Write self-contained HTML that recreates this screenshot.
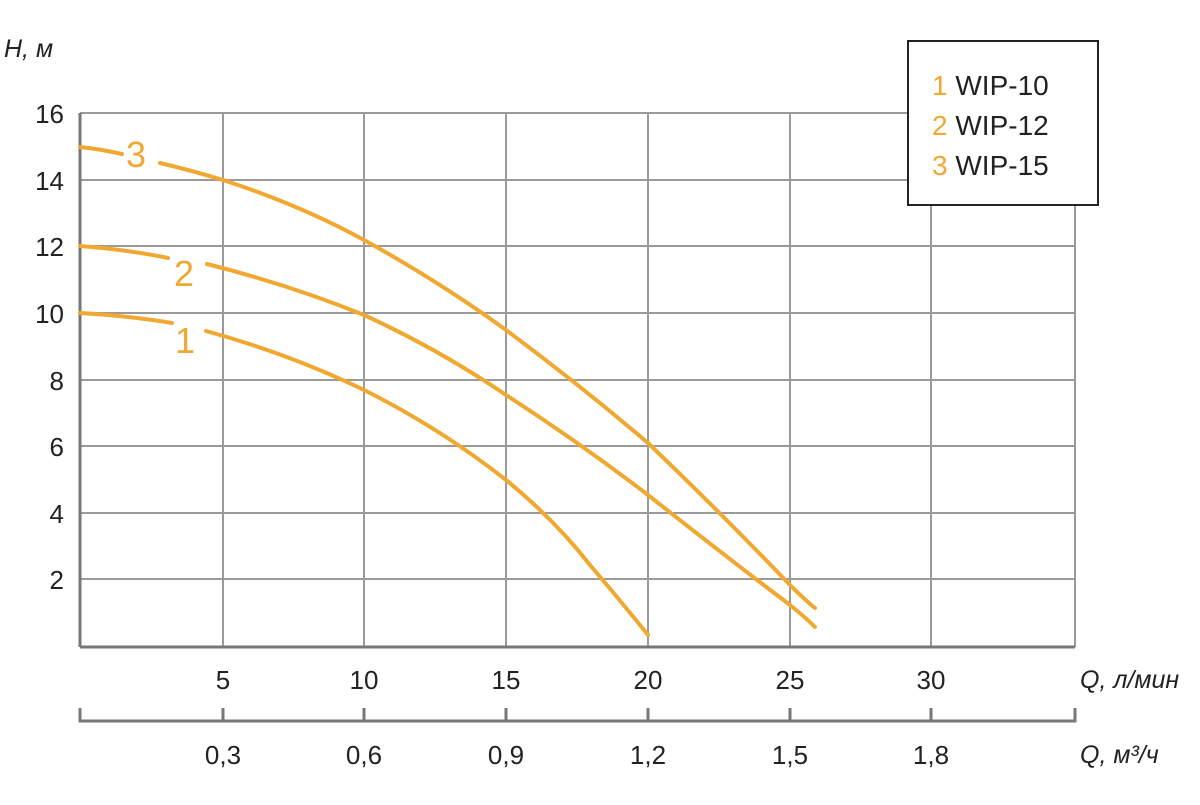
<!DOCTYPE html>
<html><head><meta charset="utf-8"><style>
body{margin:0;background:#fff;width:1200px;height:800px;overflow:hidden}
text{font-family:"Liberation Sans","DejaVu Sans",sans-serif;fill:#222}
</style></head><body>
<svg width="1200" height="800" viewBox="0 0 1200 800">
<g stroke="#9a9a9a" stroke-width="2" fill="none">
<line x1="80" y1="113" x2="1075" y2="113"/>
<line x1="80" y1="180" x2="1075" y2="180"/>
<line x1="80" y1="246" x2="1075" y2="246"/>
<line x1="80" y1="313" x2="1075" y2="313"/>
<line x1="80" y1="380" x2="1075" y2="380"/>
<line x1="80" y1="446" x2="1075" y2="446"/>
<line x1="80" y1="513" x2="1075" y2="513"/>
<line x1="80" y1="579" x2="1075" y2="579"/>
<line x1="223" y1="113" x2="223" y2="647"/>
<line x1="364" y1="113" x2="364" y2="647"/>
<line x1="506" y1="113" x2="506" y2="647"/>
<line x1="648" y1="113" x2="648" y2="647"/>
<line x1="790" y1="113" x2="790" y2="647"/>
<line x1="931" y1="113" x2="931" y2="647"/>
<line x1="1075" y1="113" x2="1075" y2="647"/>
</g>
<g stroke="#777" stroke-width="3" fill="none">
<line x1="80" y1="113" x2="80" y2="647"/>
<line x1="80" y1="647" x2="1075" y2="647"/>
<path d="M80 708V721H1075V708M223 708V721M364 708V721M506 708V721M648 708V721M790 708V721M931 708V721"/>
</g>
<g stroke="#f0a830" stroke-width="4" fill="none" stroke-linecap="round">
<path d="M80 147 Q100 149 122 154"/>
<path d="M160 163 Q190 170 223 180 Q300 205 364 240 Q440 282 506 330 Q580 385 648 443 Q720 512 790 585 Q805 600 815 608"/>
<path d="M80 246 Q130 250 168 258"/>
<path d="M207 264 Q290 285 364 315 Q440 350 506 395 Q580 443 648 495 Q720 552 790 605 Q805 617 815 627"/>
<path d="M80 313 Q130 316 172 323"/>
<path d="M206 331 Q290 354 364 390 Q440 428 506 480 Q555 520 590 565 Q620 600 648 635"/>
</g>
<g style="font-size:36px">
<text x="126" y="167" style="fill:#f0a830">3</text>
<text x="174" y="286" style="fill:#f0a830">2</text>
<text x="175" y="353" style="fill:#f0a830">1</text>
</g>
<g style="font-size:26px" text-anchor="end">
<text x="64" y="123">16</text><text x="64" y="190">14</text><text x="64" y="256">12</text>
<text x="64" y="323">10</text><text x="64" y="390">8</text><text x="64" y="456">6</text>
<text x="64" y="523">4</text><text x="64" y="589">2</text>
</g>
<text x="4" y="57" style="font-size:25px;font-style:italic">H, м</text>
<g style="font-size:26px" text-anchor="middle">
<text x="223" y="689">5</text><text x="364" y="689">10</text><text x="506" y="689">15</text>
<text x="648" y="689">20</text><text x="790" y="689">25</text><text x="931" y="689">30</text>
<text x="223" y="764">0,3</text><text x="364" y="764">0,6</text><text x="506" y="764">0,9</text>
<text x="648" y="764">1,2</text><text x="790" y="764">1,5</text><text x="931" y="764">1,8</text>
</g>
<text x="1080" y="688" style="font-size:25px;font-style:italic">Q, л/мин</text>
<text x="1080" y="763" style="font-size:25px;font-style:italic">Q, м³/ч</text>
<rect x="908" y="41" width="190" height="164" fill="#fff" stroke="#222" stroke-width="2"/>
<g style="font-size:28px">
<text x="932" y="95"><tspan style="fill:#f0a830">1</tspan> WIP-10</text>
<text x="932" y="135"><tspan style="fill:#f0a830">2</tspan> WIP-12</text>
<text x="932" y="175"><tspan style="fill:#f0a830">3</tspan> WIP-15</text>
</g>
</svg>
</body></html>
